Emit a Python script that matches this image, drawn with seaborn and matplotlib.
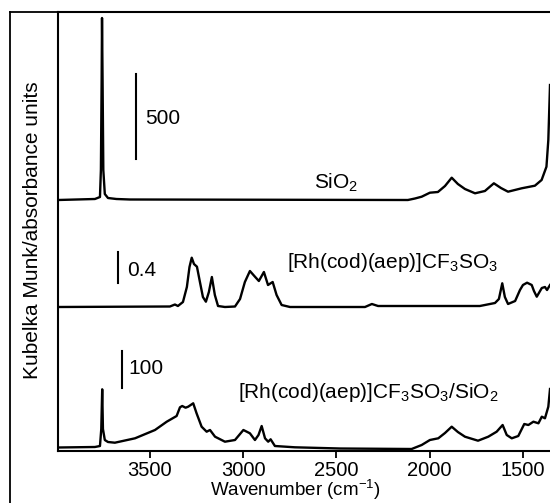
import numpy as np
import pandas as pd
import seaborn as sns
import matplotlib
matplotlib.use("Agg")
import matplotlib.pyplot as plt
from matplotlib.lines import Line2D

# spectra: wavenumber (cm-1) and intensity above own baseline
sio2_wn = [3993, 3795, 3768, 3763, 3759, 3757, 3754, 3750, 3742, 3725, 3680, 3607, 2117,
           2079, 2043, 1999, 1956, 1918, 1882, 1849, 1811, 1757, 1704, 1656, 1618,
           1580, 1507, 1436, 1400, 1374, 1364, 1355]
sio2_int = [0, 1, 3, 30, 120, 182, 120, 30, 6, 2, 1, 0.5, 0,
            1.5, 3.3, 7.3, 8, 14, 22.3, 16, 11, 6.7, 9, 16.7, 12,
            8.3, 11.7, 14.3, 20, 33.3, 60, 115]

rh_wn = [3993, 3393, 3366, 3350, 3323, 3302, 3288, 3276, 3264, 3248, 3232, 3216,
         3200, 3184, 3168, 3152, 3135, 3098, 3044, 3017, 2991, 2964, 2937, 2916,
         2889, 2867, 2842, 2821, 2794, 2749, 2347, 2310, 2277, 1731, 1650, 1629,
         1611, 1597, 1580, 1542, 1516, 1500, 1478, 1453, 1441, 1426, 1399, 1382,
         1371, 1355]
rh_int = [0, 0.5, 2.5, 1, 5, 20, 40, 49.3, 43, 40.3, 25, 10,
          5.3, 15, 30, 12, 1, 0, 0.5, 8, 25, 36, 30.3, 26,
          35, 22, 25, 12, 2, 0, 0, 3, 1, 1, 4, 8,
          23.7, 10, 3, 6, 17, 22, 24.3, 22, 16, 10.3, 19, 20,
          17, 22]

rhsio2_wn = [3993, 3795, 3768, 3761, 3756, 3752, 3742, 3725, 3688, 3580, 3473, 3410,
             3357, 3339, 3327, 3309, 3295, 3268, 3250, 3223, 3196, 3178, 3151, 3098,
             3044, 2999, 2964, 2937, 2918, 2901, 2883, 2866, 2853, 2830, 2723, 2481,
             2097, 2043, 1999, 1954, 1918, 1882, 1849, 1811, 1741, 1686, 1641, 1609,
             1587, 1560, 1525, 1493, 1471, 1444, 1417, 1399, 1382, 1364, 1355]
rhsio2_int = [1.5, 2, 3, 20, 59.7, 20, 9, 7, 6.3, 10.7, 19, 27.3,
              33, 41.7, 43, 41.3, 42.3, 45.7, 35.7, 22.3, 17.3, 19, 12.3, 7.3,
              9, 19, 15.7, 9, 14, 23, 10.7, 7.3, 9.7, 3, 1.7, 0.5,
              0, 4, 9, 10.7, 16, 22.3, 17, 12.3, 8.3, 12.3, 17.3, 24,
              14, 10.7, 13, 25, 24, 27.3, 25.7, 32.3, 30.7, 42.3, 60]

offsets = {"SiO2": 251, "Rh": 144, "RhSiO2": 2}

plt.rcParams["font.family"] = ["Liberation Sans", "DejaVu Sans"]
plt.rcParams["mathtext.fontset"] = "custom"
plt.rcParams["mathtext.rm"] = "Liberation Sans"
plt.rcParams["mathtext.default"] = "regular"

fig = plt.figure(figsize=(5.5, 5.03), dpi=100)
ax = fig.add_axes([58 / 550, 52 / 503, 492 / 550, 439 / 503])

frames = []
for name, wn, inten in [("SiO2", sio2_wn, sio2_int), ("Rh", rh_wn, rh_int),
                        ("RhSiO2", rhsio2_wn, rhsio2_int)]:
    frames.append(pd.DataFrame({"wn": wn, "y": np.array(inten) + offsets[name], "s": name}))
df = pd.concat(frames)

for name, d in df.groupby("s"):
    sns.lineplot(data=d, x="wn", y="y", color="black", lw=1.7, estimator=None,
                 sort=False, ax=ax)

# scale bars
ax.plot([3575, 3575], [292, 377], color="black", lw=1.5)
ax.plot([3670, 3670], [168, 199], color="black", lw=1.5)
ax.plot([3649, 3649], [63, 100], color="black", lw=1.5)

fs = 15
ax.text(3527, 333, "500", fontsize=fs, va="center")
ax.text(2621, 268, "SiO$_2$", fontsize=fs, va="center")
ax.text(3623, 181, "0.4", fontsize=fs, va="center")
ax.text(2765, 189, "[Rh(cod)(aep)]CF$_3$SO$_3$", fontsize=fs, va="center")
ax.text(3618, 83, "100", fontsize=fs, va="center")
ax.text(3028, 58, "[Rh(cod)(aep)]CF$_3$SO$_3$/SiO$_2$", fontsize=fs, va="center")

ax.set_xlim(3993, 1355)
ax.set_ylim(0, 439)
ax.set_xticks([3500, 3000, 2500, 2000, 1500])
ax.set_yticks([])
ax.tick_params(axis="x", direction="out", length=5, width=1.3, labelsize=14.5, pad=2)
for s in ["left", "bottom", "top"]:
    ax.spines[s].set_linewidth(1.5)
ax.spines["right"].set_visible(False)

ax.set_xlabel("Wavenumber (cm$^{-1}$)", fontsize=13.5, va="top")
ax.xaxis.set_label_coords(0.482, -0.061)
ax.set_ylabel("Kubelka Munk/absorbance units", fontsize=fs)
ax.yaxis.set_label_coords(-0.032, 0.503)

# outer frame
fig.add_artist(Line2D([10 / 550, 10 / 550], [0, 491 / 503], transform=fig.transFigure,
                      color="black", lw=1.3))
fig.add_artist(Line2D([10 / 550, 1], [491 / 503, 491 / 503], transform=fig.transFigure,
                      color="black", lw=1.3))

fig.savefig("out.png", dpi=100)
